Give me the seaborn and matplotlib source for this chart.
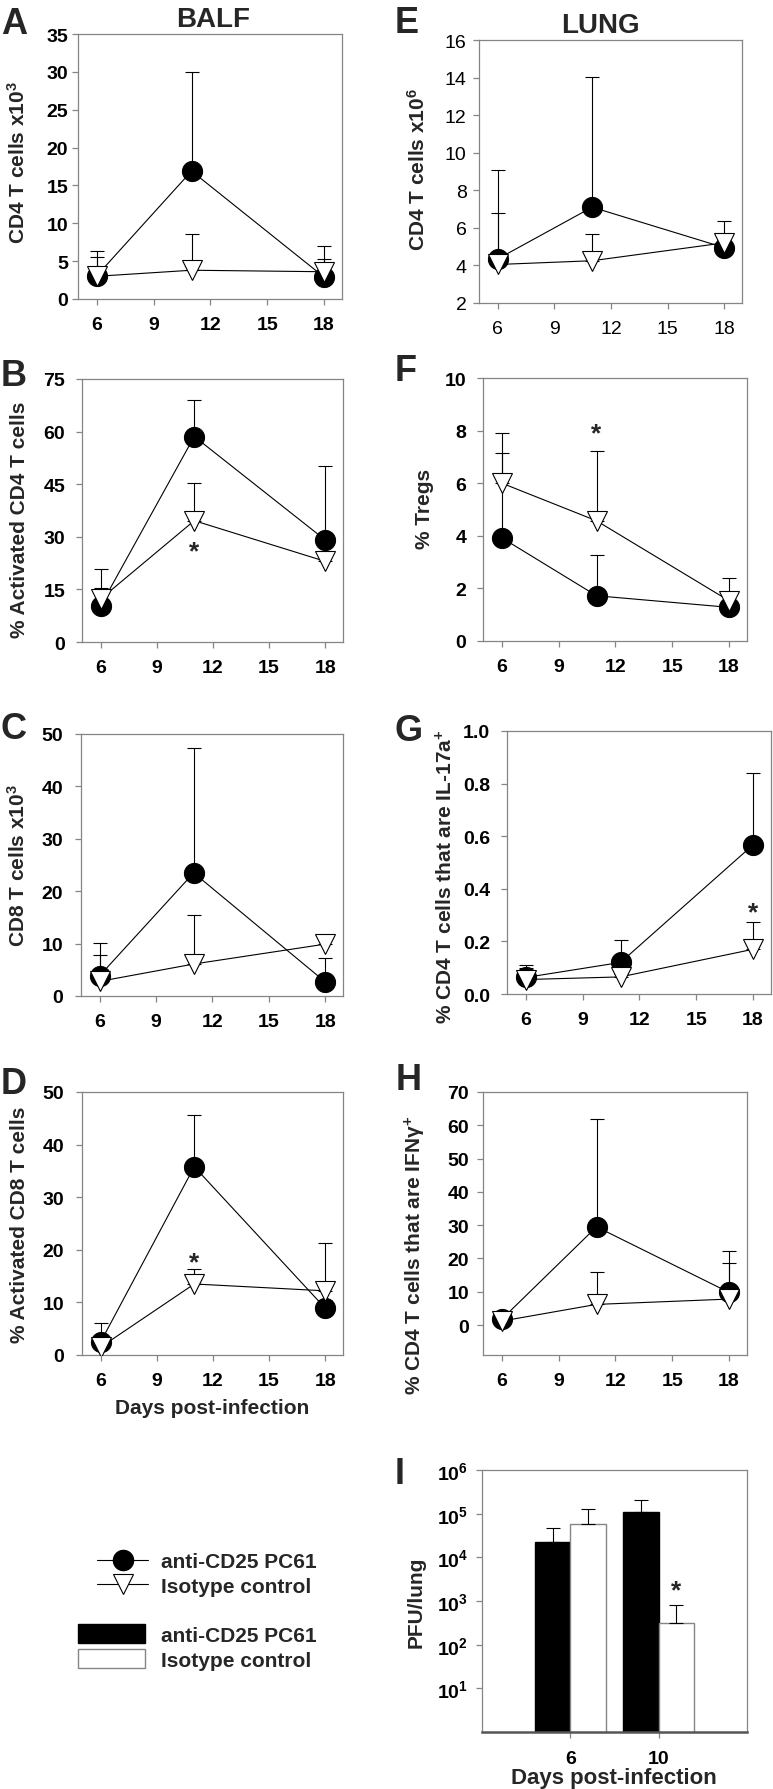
import numpy as np
import pandas as pd
import seaborn as sns
import matplotlib
matplotlib.use("Agg")
import matplotlib.pyplot as plt
import matplotlib.transforms as mtransforms
from matplotlib.lines import Line2D
from matplotlib.patches import Patch
from matplotlib.ticker import NullLocator

# | Data |-------------------------------------------------------------------------------------------------------------|
days = [6, 11, 18]
day_ticks = [6, 9, 12, 15, 18]
groups = ["anti-CD25 PC61", "Isotype control"]

# A - BALF CD4 T cells x10^3
a_pc61 = [3.1, 16.9, 2.9]
a_pc61_err = [3.2, 13.1, 4.1]
a_iso = [3.0, 3.8, 3.6]
a_iso_err = [2.6, 4.8, 1.7]

# B - BALF % activated CD4
b_pc61 = [10.4, 58.6, 29.1]
b_pc61_err = [10.4, 10.4, 21.0]
b_iso = [12.3, 34.6, 23.0]
b_iso_err = [3.0, 10.7, 3.0]
b_star = (11, 26)

# C - BALF CD8 T cells x10^3
c_pc61 = [3.9, 23.5, 2.7]
c_pc61_err = [6.2, 23.9, 4.6]
c_iso = [2.8, 6.1, 9.9]
c_iso_err = [5.0, 9.4, 1.4]

# D - BALF % activated CD8
d_pc61 = [2.5, 35.8, 8.9]
d_pc61_err = [3.6, 9.9, 1.5]
d_iso = [1.5, 13.5, 12.2]
d_iso_err = [0.5, 2.8, 9.1]
d_star = (11, 17.7)

# E - lung CD4 T cells x10^6
e_pc61 = [4.35, 7.1, 4.95]
e_pc61_err = [4.75, 6.95, 0.4]
e_iso = [4.05, 4.25, 5.2]
e_iso_err = [2.75, 1.4, 1.15]

# F - lung % Tregs
f_pc61 = [3.92, 1.72, 1.28]
f_pc61_err = [3.23, 1.56, 1.1]
f_iso = [6.0, 4.57, 1.53]
f_iso_err = [1.9, 2.67, 0.19]
f_star = (11, 7.9)

# G - lung % IL-17a+
g_pc61 = [0.063, 0.12, 0.567]
g_pc61_err = [0.048, 0.086, 0.272]
g_iso = [0.055, 0.065, 0.17]
g_iso_err = [0.045, 0.012, 0.105]
g_star = (18, 0.31)

# H - lung % IFNg+
h_pc61 = [1.8, 29.5, 9.8]
h_pc61_err = [0.8, 32.4, 12.4]
h_iso = [1.2, 6.2, 7.8]
h_iso_err = [0.6, 9.8, 10.7]

# I - PFU/lung
pfu_days = ["6", "10"]
pfu_pc61 = [2.3e4, 1.07e5]
pfu_pc61_err = [2.3e4, 1.03e5]
pfu_iso = [5.7e4, 3.1e2]
pfu_iso_err = [6.8e4, 4.9e2]
pfu_star = 1.8e3
# |--------------------------------------------------------------------------------------------------------------------|

sns.set_theme(style="ticks")
plt.rcParams["font.family"] = ["Liberation Sans", "DejaVu Sans"]
plt.rcParams["mathtext.fontset"] = "custom"
plt.rcParams["mathtext.rm"] = "Liberation Sans"
plt.rcParams["mathtext.bf"] = "Liberation Sans:bold"
plt.rcParams["mathtext.it"] = "Liberation Sans:italic"
plt.rcParams["mathtext.default"] = "bf"

SPINE = "#858585"
TICK_FS = 14
LABEL_FS = 15
W, H = 773, 1790
fig = plt.figure(figsize=(W / 100, H / 100), dpi=100)
PX = mtransforms.Affine2D().scale(1 / W, -1 / H).translate(0, 1) + fig.transFigure


def add_panel(left, top, right, bottom):
    return fig.add_axes([left / W, 1 - bottom / H, (right - left) / W, (bottom - top) / H])


def style_axes(ax, ypad, xpad):
    for sp in ax.spines.values():
        sp.set_color(SPINE)
        sp.set_linewidth(0.9)
    ax.tick_params(axis="both", colors=SPINE, length=4, width=0.9, labelcolor="black", labelsize=TICK_FS)
    ax.tick_params(axis="y", pad=ypad)
    ax.tick_params(axis="x", pad=xpad)


def line_panel(rect, pc61, pc61_err, iso, iso_err, ylim, yticks, ylabel, label_xy,
               ypad, xpad=8, weight="bold", fmt="{:g}"):
    ax = add_panel(*rect)
    zeros = np.zeros(len(days))
    for vals, err in ((pc61, pc61_err), (iso, iso_err)):
        ax.errorbar(days, vals, yerr=[zeros, err], fmt="none", ecolor="black",
                    elinewidth=0.8, capsize=5, capthick=0.8, zorder=1)
    sns.lineplot(x=days, y=pc61, ax=ax, color="black", linewidth=0.8, marker="o",
                 markersize=14.5, markerfacecolor="black", markeredgecolor="black", zorder=3)
    sns.lineplot(x=days, y=iso, ax=ax, color="black", linewidth=0.8, marker="v",
                 markersize=14.5, markerfacecolor="white", markeredgecolor="black",
                 markeredgewidth=0.8, zorder=4)
    ax.set_xlim(5.0, 18.95)
    ax.set_ylim(*ylim)
    ax.set_xticks(day_ticks, [str(d) for d in day_ticks], fontweight=weight)
    ax.set_yticks(yticks, [fmt.format(t) for t in yticks], fontweight=weight)
    style_axes(ax, ypad, xpad)
    ax.set_ylabel(ylabel, fontsize=LABEL_FS, fontweight="bold")
    ax.yaxis.set_label_coords(*label_xy, transform=PX)
    return ax


def star(ax, xy):
    ax.text(xy[0], xy[1], "*", ha="center", va="center", fontsize=19, fontweight="bold")


# | Line panels |------------------------------------------------------------------------------------------------------|
ax_a = line_panel((78, 35, 342, 300), a_pc61, a_pc61_err, a_iso, a_iso_err, (0, 35), range(0, 36, 5),
                  "CD4 T cells x10$^{3}$", (29, 163), ypad=3)
ax_b = line_panel((82, 380, 343, 643), b_pc61, b_pc61_err, b_iso, b_iso_err, (0, 75), range(0, 76, 15),
                  "% Activated CD4 T cells", (29, 520), ypad=8)
star(ax_b, b_star)
ax_c = line_panel((81, 735, 343, 997), c_pc61, c_pc61_err, c_iso, c_iso_err, (0, 50), range(0, 51, 10),
                  "CD8 T cells x10$^{3}$", (29, 866), ypad=9)
ax_d = line_panel((82, 1093, 343, 1356), d_pc61, d_pc61_err, d_iso, d_iso_err, (0, 50), range(0, 51, 10),
                  "% Activated CD8 T cells", (29, 1225), ypad=9)
star(ax_d, d_star)
ax_d.set_xlabel("Days post-infection", fontsize=LABEL_FS, fontweight="bold")
ax_d.xaxis.set_label_coords(212, 1399, transform=PX)

ax_e = line_panel((479, 41, 742, 304), e_pc61, e_pc61_err, e_iso, e_iso_err, (2, 16), range(2, 17, 2),
                  "CD4 T cells x10$^{6}$", (429, 170), ypad=5, weight="normal")
ax_f = line_panel((483, 379, 747, 642), f_pc61, f_pc61_err, f_iso, f_iso_err, (0, 10), range(0, 11, 2),
                  "% Tregs", (434, 509), ypad=8)
star(ax_f, f_star)
ax_g = line_panel((507, 732, 771, 995), g_pc61, g_pc61_err, g_iso, g_iso_err, (0, 1.0),
                  [0.0, 0.2, 0.4, 0.6, 0.8, 1.0], "% CD4 T cells that are IL-17a$^{+}$", (456, 877),
                  ypad=8, fmt="{:.1f}")
star(ax_g, g_star)
ax_h = line_panel((483, 1093, 747, 1356), h_pc61, h_pc61_err, h_iso, h_iso_err, (-9, 70), range(0, 71, 10),
                  "% CD4 T cells that are IFN\u03b3$^{+}$", (428, 1255), ypad=6)

# | I - bar panel |----------------------------------------------------------------------------------------------------|
ax_i = add_panel(482, 1471, 747, 1733)
ax_i.set_yscale("log")
pfu_df = pd.DataFrame({
    "day": pfu_days * 2,
    "pfu": pfu_pc61 + pfu_iso,
    "group": [groups[0]] * len(pfu_days) + [groups[1]] * len(pfu_days),
})
sns.barplot(data=pfu_df, x="day", y="pfu", hue="group", palette=["black", "white"], saturation=1,
            width=0.8, errorbar=None, legend=False, ax=ax_i, linewidth=1)
for cont, edge, vals, errs in zip(ax_i.containers, ["black", SPINE], [pfu_pc61, pfu_iso],
                                  [pfu_pc61_err, pfu_iso_err]):
    xs = []
    for bar in cont:
        bar.set_edgecolor(edge)
        xs.append(bar.get_x() + bar.get_width() / 2)
    ax_i.errorbar(xs, vals, yerr=[np.zeros(len(vals)), errs], fmt="none", ecolor="black",
                  elinewidth=0.8, capsize=5, capthick=0.8, zorder=3)
    last_x = xs[-1]
ax_i.text(last_x, pfu_star, "*", ha="center", va="center", fontsize=19, fontweight="bold")
ax_i.set_xlim(-1, 2)
ax_i.set_ylim(1, 1e6)
pfu_ticks = [1e1, 1e2, 1e3, 1e4, 1e5, 1e6]
ax_i.set_yticks(pfu_ticks, [r"$\mathbf{10^{%d}}$" % np.log10(t) for t in pfu_ticks])
ax_i.yaxis.set_minor_locator(NullLocator())
ax_i.set_xticks([0, 1], pfu_days, fontweight="bold")
style_axes(ax_i, ypad=6, xpad=9)
ax_i.spines["bottom"].set_color("#555555")
ax_i.spines["bottom"].set_linewidth(1.8)
ax_i.set_xlabel("Days post-infection", fontsize=LABEL_FS + 1, fontweight="bold")
ax_i.xaxis.set_label_coords(614, 1768, transform=PX)
ax_i.set_ylabel("PFU/lung", fontsize=LABEL_FS, fontweight="bold")
ax_i.yaxis.set_label_coords(426, 1602, transform=PX)

# | Titles and panel letters |-----------------------------------------------------------------------------------------|
fig.text(213, 27, "BALF", transform=PX, ha="center", va="baseline", fontsize=20, fontweight="bold")
fig.text(600, 33, "LUNG", transform=PX, ha="center", va="baseline", fontsize=20, fontweight="bold")
for letter, x, y in [("A", 1, 34), ("E", 395, 33), ("B", 1, 386), ("F", 395, 381), ("C", 1, 739),
                     ("G", 395, 741), ("D", 1, 1094), ("H", 396, 1090), ("I", 395, 1484)]:
    fig.text(x, y, letter, transform=PX, ha="left", va="baseline", fontsize=26, fontweight="bold")

# | Legends |----------------------------------------------------------------------------------------------------------|
line_handles = [
    Line2D([], [], color="black", lw=0.8, marker="o", markersize=14.5, markerfacecolor="black",
           markeredgecolor="black"),
    Line2D([], [], color="black", lw=0.8, marker="v", markersize=14.5, markerfacecolor="white",
           markeredgecolor="black", markeredgewidth=0.8),
]
fig.legend(line_handles, groups, loc="center left", bbox_to_anchor=(97 / W, 1 - 1575 / H), frameon=False,
           handlelength=2.45, handletextpad=0.6, labelspacing=0.25, borderpad=0, borderaxespad=0,
           prop={"weight": "bold", "size": 15})
bar_handles = [Patch(facecolor="black", edgecolor="black"), Patch(facecolor="white", edgecolor=SPINE)]
fig.legend(bar_handles, groups, loc="center left", bbox_to_anchor=(78 / W, 1 - 1648 / H), frameon=False,
           handlelength=3.2, handleheight=1.05, handletextpad=0.8, labelspacing=0.2, borderpad=0,
           borderaxespad=0, prop={"weight": "bold", "size": 15})

fig.savefig("out.png", dpi=100)
